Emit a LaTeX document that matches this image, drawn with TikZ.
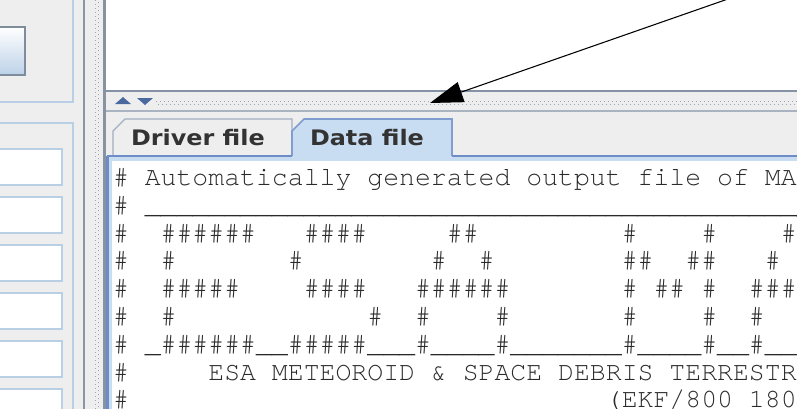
\documentclass[tikz,border=0pt]{standalone}
\usepackage{fontspec}
\usetikzlibrary{arrows.meta}
\newfontfamily\monofont[Kerning=Off,Ligatures={NoCommon,NoRequired,NoContextual}]{texgyrecursor-regular.otf}
\newfontfamily\tabfont[FakeStretch=1.12]{DejaVu Sans}
\newcommand\hsh{\#}
\newcommand\usc{\_}
\definecolor{bggray}{HTML}{EEEEEE}
\definecolor{paneblue}{HTML}{B8CFE5}
\definecolor{btnborder}{HTML}{7E8C9B}
\definecolor{btnblue}{HTML}{BCD1E8}
\definecolor{divgray}{HTML}{8A96A4}
\definecolor{dotcol}{HTML}{9AA6B6}
\definecolor{bandgray}{HTML}{8793A3}
\definecolor{splitline}{HTML}{8592A6}
\definecolor{splitlight}{HTML}{A9B3C1}
\definecolor{arrblue}{HTML}{4A6A9F}
\definecolor{tabgrayline}{HTML}{A3AFC0}
\definecolor{tabsel}{HTML}{C8DCF2}
\definecolor{tabblue}{HTML}{7F9ECF}
\definecolor{contentblue}{HTML}{6E8DC6}
\definecolor{textcol}{HTML}{2A2A2A}
\definecolor{tabtext}{HTML}{333333}
\begin{document}
\begin{tikzpicture}[x=0.75pt,y=-0.75pt,
  paneline/.style={draw=paneblue,line width=1.5pt},
  fieldbox/.style={draw=paneblue,fill=white,line width=1.5pt},
  dotbox/.style={fill=dotcol},
  monotext/.style={anchor=base west,inner sep=0pt,outer sep=0pt,
    font=\monofont\fontsize{19.875}{20}\selectfont\frenchspacing,text=textcol},
  tablabel/.style={anchor=base west,inner sep=0pt,outer sep=0pt,
    font=\tabfont\bfseries\fontsize{16}{16}\selectfont,text=tabtext},
  callout/.style={draw=black,line width=0.8pt,-{Triangle[length=24.75pt,width=15.75pt]}}]
\useasboundingbox (0,0) rectangle (797,408);
\clip (0,0) rectangle (797,408);
% background
\fill[bggray] (-2,-2) rectangle (799,410);
% left panel
\draw[paneline] (-3,102) -- (73,102) -- (73,-3);
\draw[draw=btnborder,line width=1.5pt,top color=white,bottom color=btnblue] (-3,27) rectangle (25,75);
\draw[paneline] (-3,123) -- (73,123) -- (73,411);
\foreach \yy in {149,197,245,293,341,389}
  \draw[fieldbox] (-3,\yy) rectangle (62,\yy+36);
% vertical divider
\draw[divgray,line width=1.5pt] (83.5,-2) -- (83.5,410);
\foreach \k in {0,...,102}{
  \fill[dotbox] (95,4*\k) rectangle ++(1.4,1.4);
  \fill[dotbox] (98,4*\k+2) rectangle ++(1.4,1.4);}
\fill[bandgray] (103,-2) rectangle (106,410);
% top white area
\fill[white] (106,-2) rectangle (799,90);
\fill[splitline] (103,89.5) rectangle (799,91.5);
% splitter bar arrows and dots
\fill[arrblue] (115,104) -- (123,97) -- (131,104) -- cycle;
\fill[arrblue] (137,98) -- (153,98) -- (145,105) -- cycle;
\foreach \k in {0,...,160}{
  \fill[dotbox] (156+4*\k,101) rectangle ++(1.4,1.4);
  \fill[dotbox] (158+4*\k,104) rectangle ++(1.4,1.4);}
\draw[splitlight,line width=0.9pt] (106,111) -- (799,111);
% tabs
\draw[draw=tabgrayline,fill=bggray,line width=1pt] (113,157) -- (113,131) -- (125,119) -- (292,119) -- (292,157);
\draw[draw=tabblue,fill=tabsel,line width=1.2pt] (292,157) -- (292,131) -- (304,119) -- (452,119) -- (452,156);
% content border
\fill[tabsel] (107,156) rectangle (799,161);
\draw[contentblue,line width=1.3pt] (106.5,156) -- (292,156);
\draw[contentblue,line width=1.3pt] (452,156) -- (799,156);
\fill[contentblue] (106,156) rectangle (108.5,410);
\fill[tabsel] (108.5,157) rectangle (112,410);
\fill[white] (112,161) rectangle (799,410);
% tab labels
\node[tablabel] (drivertab) at (131,145) {Driver file};
\node[tablabel] (datatab) at (310,145) {Data file};
% text lines
\node[monotext] (r1) at (113,185.5) {\hsh~Automatically~generated~output~file~of~MA};
\node[monotext] (r2) at (113,213.3) {\hsh~\usc\usc\usc\usc\usc\usc\usc\usc\usc\usc\usc\usc\usc\usc\usc\usc\usc\usc\usc\usc\usc\usc\usc\usc\usc\usc\usc\usc\usc\usc\usc\usc\usc\usc\usc\usc\usc\usc\usc\usc\usc\usc};
\node[monotext] (r3) at (113,241.1) {\hsh~~\hsh\hsh\hsh\hsh\hsh\hsh~~~\hsh\hsh\hsh\hsh~~~~~\hsh\hsh~~~~~~~~~\hsh~~~~\hsh~~~~\hsh};
\node[monotext] (r4) at (113,268.9) {\hsh~~\hsh~~~~~~~\hsh~~~~~~~~\hsh~~\hsh~~~~~~~~\hsh\hsh~~\hsh\hsh~~~\hsh};
\node[monotext] (r5) at (113,296.7) {\hsh~~\hsh\hsh\hsh\hsh\hsh~~~~\hsh\hsh\hsh\hsh~~~\hsh\hsh\hsh\hsh\hsh\hsh~~~~~~~\hsh~\hsh\hsh~\hsh~~\hsh\hsh\hsh};
\node[monotext] (r6) at (113,324.5) {\hsh~~\hsh~~~~~~~~~~~~\hsh~~\hsh~~~~\hsh~~~~~~~\hsh~~~~\hsh~~\hsh};
\node[monotext] (r7) at (113,352.3) {\hsh~\usc\hsh\hsh\hsh\hsh\hsh\hsh\usc\usc\hsh\hsh\hsh\hsh\hsh\usc\usc\usc\hsh\usc\usc\usc\usc\hsh\usc\usc\usc\usc\usc\usc\usc\hsh\usc\usc\usc\usc\hsh\usc\usc\hsh\usc\usc};
\node[monotext] (r8) at (113,380.1) {\hsh~~~~~ESA~METEOROID~\&~SPACE~DEBRIS~TERRESTR};
\node[monotext] (r9) at (113,407.9) {\hsh~~~~~~~~~~~~~~~~~~~~~~~~~~~~~~(EKF/800~180};
% callout arrow
\coordinate (calloutstart) at (736.5,-4);
\coordinate (callouttip) at (430,103);
\draw[callout] (calloutstart) -- (callouttip);
\end{tikzpicture}
\end{document}
